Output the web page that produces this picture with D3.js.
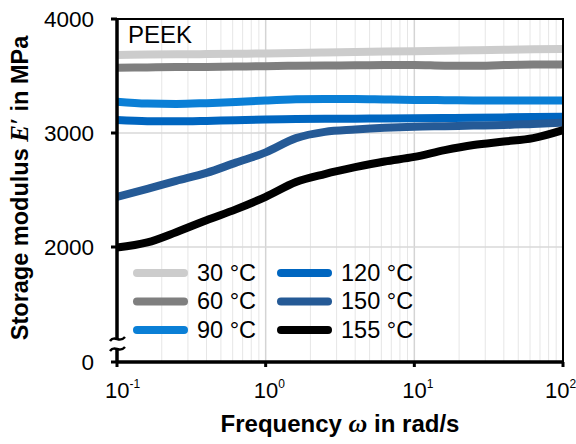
<!DOCTYPE html>
<html>
<head>
<meta charset="utf-8">
<script src="https://cdn.jsdelivr.net/npm/d3@7"></script>
<style>
  body { margin: 0; background: #fff; }
  text { font-family: Arial, "Liberation Sans", sans-serif; }
</style>
</head>
<body>
<svg width="576" height="444"></svg>
<script>
// frequency in rad/s
const freq = [0.1, 0.16, 0.25, 0.4, 0.63, 1, 1.6, 2.5, 4, 6.3, 10, 16, 25, 40, 63, 100];
const temps = ["30 °C", "60 °C", "90 °C", "120 °C", "150 °C", "155 °C"];
const colors = ["#cccccc", "#7f7f7f", "#0a7fd6", "#0066c0", "#255a96", "#000000"];
const e30  = [3685, 3688, 3690, 3692, 3695, 3698, 3702, 3706, 3710, 3714, 3718, 3722, 3726, 3730, 3734, 3737];
const e60  = [3573, 3575, 3578, 3580, 3583, 3586, 3590, 3592, 3594, 3596, 3597, 3590, 3589, 3596, 3600, 3602];
const e90  = [3275, 3258, 3255, 3262, 3272, 3285, 3295, 3298, 3298, 3294, 3290, 3288, 3285, 3284, 3284, 3285];
const e120 = [3114, 3104, 3102, 3106, 3112, 3118, 3122, 3124, 3126, 3128, 3130, 3132, 3134, 3137, 3140, 3143];
const e150 = [2440, 2510, 2580, 2650, 2740, 2830, 2955, 3010, 3030, 3045, 3055, 3060, 3065, 3070, 3080, 3090];
const e155 = [1990, 2040, 2130, 2235, 2330, 2440, 2570, 2640, 2700, 2750, 2790, 2850, 2895, 2925, 2955, 3025];
const series = [e30, e60, e90, e120, e150, e155];
const yTicks = [0, 2000, 3000, 4000];
const xTicks = [0.1, 1, 10, 100];
const xExp = ["-1", "0", "1", "2"];

const svg = d3.select("svg");
const mLeft = 117, mRight = 563, mTop = 19, mBottom = 362;

const x = d3.scaleLog().domain([0.1, 100]).range([mLeft, mRight]);
// broken axis: 0..2000 squeezed
const y = d3.scaleLinear().domain([0, 2000, 4000]).range([mBottom, 247, mTop]);

// grid
const minor = [];
for (let d = 0.1; d < 100; d *= 10) {
  for (let k = 2; k <= 9; k++) minor.push(d * k);
}
svg.append("g").selectAll("line")
  .data(minor)
  .enter().append("line")
  .attr("x1", d => x(d)).attr("x2", d => x(d))
  .attr("y1", mTop).attr("y2", mBottom)
  .attr("stroke", "#e6e6e6").attr("stroke-width", 1);
svg.append("g").selectAll("line")
  .data([1, 10])
  .enter().append("line")
  .attr("x1", d => x(d)).attr("x2", d => x(d))
  .attr("y1", mTop).attr("y2", mBottom)
  .attr("stroke", "#d4d4d4").attr("stroke-width", 1.5);
svg.append("g").selectAll("line")
  .data([2000, 3000])
  .enter().append("line")
  .attr("x1", mLeft).attr("x2", mRight)
  .attr("y1", d => y(d)).attr("y2", d => y(d))
  .attr("stroke", "#d8d8d8").attr("stroke-width", 1.5);

// curves
const line = d3.line()
  .x((d, i) => x(freq[i]))
  .y(d => y(d))
  .curve(d3.curveMonotoneX);

svg.append("g").selectAll("path")
  .data(series)
  .enter().append("path")
  .attr("d", d => line(d))
  .attr("fill", "none")
  .attr("stroke", (d, i) => colors[i])
  .attr("stroke-width", 8);

// frame
svg.append("rect")
  .attr("x", mLeft).attr("y", mTop)
  .attr("width", mRight - mLeft).attr("height", mBottom - mTop)
  .attr("fill", "none").attr("stroke", "#000").attr("stroke-width", 2);
svg.append("line").attr("x1", mLeft).attr("x2", mLeft).attr("y1", mTop - 1).attr("y2", mBottom + 1)
  .attr("stroke", "#000").attr("stroke-width", 3.5);
svg.append("line").attr("x1", mLeft - 1).attr("x2", mRight + 1).attr("y1", mBottom).attr("y2", mBottom)
  .attr("stroke", "#000").attr("stroke-width", 3.5);

// y ticks
const yAx = svg.append("g");
yAx.selectAll("line")
  .data(yTicks)
  .enter().append("line")
  .attr("x1", mLeft - 6).attr("x2", mLeft)
  .attr("y1", d => y(d)).attr("y2", d => y(d))
  .attr("stroke", "#000").attr("stroke-width", 3);
yAx.selectAll("text")
  .data(yTicks)
  .enter().append("text")
  .attr("x", 94).attr("y", d => y(d) + 8)
  .attr("text-anchor", "end")
  .attr("font-size", 22.5)
  .text(d => d);

// x ticks
const xAx = svg.append("g");
xAx.selectAll("line")
  .data(xTicks)
  .enter().append("line")
  .attr("x1", d => x(d)).attr("x2", d => x(d))
  .attr("y1", mBottom).attr("y2", mBottom + 5)
  .attr("stroke", "#000").attr("stroke-width", 3);
const xl = xAx.selectAll("text")
  .data(xTicks)
  .enter().append("text")
  .attr("x", d => Math.min(x(d) - 12, 545)).attr("y", 398)
  .attr("font-size", 22);
xl.append("tspan").text("10");
xl.append("tspan").attr("dy", -10).attr("font-size", 12).text((d, i) => xExp[i]);

// axis break
const br = svg.append("g");
br.append("rect").attr("x", mLeft - 3).attr("y", 339).attr("width", 6).attr("height", 9).attr("fill", "#fff");
[338, 348].forEach(yy => {
  br.append("path")
    .attr("d", `M${mLeft - 7},${yy + 3} C${mLeft - 2},${yy - 4} ${mLeft + 2},${yy + 6} ${mLeft + 8},${yy - 1}`)
    .attr("fill", "none").attr("stroke", "#000").attr("stroke-width", 2.5);
});

// PEEK label
svg.append("text").attr("x", 128).attr("y", 43).attr("font-size", 24).text("PEEK");

// legend
const lg = svg.append("g");
temps.forEach((t, i) => {
  const col = Math.floor(i / 3), row = i % 3;
  const lx = 137 + col * 144, ly = 273 + row * 28.5;
  lg.append("line")
    .attr("x1", lx).attr("x2", lx + 47)
    .attr("y1", ly).attr("y2", ly)
    .attr("stroke", colors[i]).attr("stroke-width", 8)
    .attr("stroke-linecap", "round");
  lg.append("text")
    .attr("x", lx + 60).attr("y", ly + 7.5)
    .attr("font-size", 23.5)
    .text(t);
});

// axis titles
const xt = svg.append("text")
  .attr("x", 340).attr("y", 432)
  .attr("text-anchor", "middle")
  .attr("font-size", 24).attr("font-weight", "bold");
xt.append("tspan").text("Frequency ");
xt.append("tspan").attr("font-family", "Liberation Serif, serif").attr("font-style", "italic").attr("font-size", 26).text("ω");
xt.append("tspan").text(" in rad/s");

const yt = svg.append("text")
  .attr("transform", "translate(28,188) rotate(-90)")
  .attr("text-anchor", "middle")
  .attr("font-size", 23.5).attr("font-weight", "bold");
yt.append("tspan").text("Storage modulus ");
yt.append("tspan").attr("font-family", "Liberation Serif, serif").attr("font-style", "italic").attr("font-size", 25).text("E′");
yt.append("tspan").text(" in MPa");
</script>
</body>
</html>
